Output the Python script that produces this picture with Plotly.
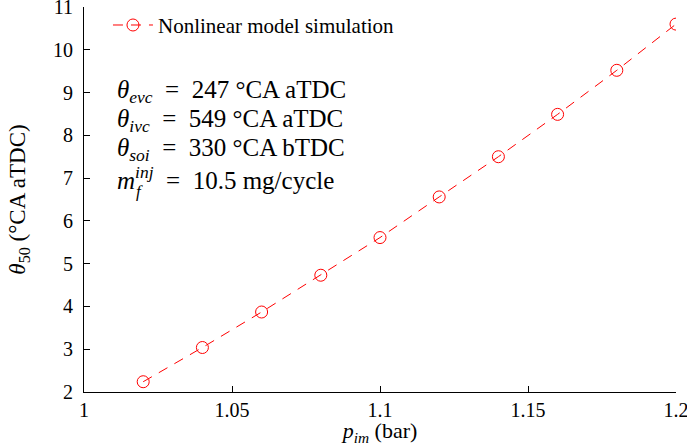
import plotly.graph_objects as go

# Intake manifold pressure (bar) and resulting combustion phasing (deg CA aTDC)
p_im = [1.02, 1.04, 1.06, 1.08, 1.10, 1.12, 1.14, 1.16, 1.18, 1.20]
theta_50 = [2.24, 3.04, 3.87, 4.73, 5.61, 6.56, 7.50, 8.49, 9.52, 10.60]

x_ticks = [1.0, 1.05, 1.1, 1.15, 1.2]
x_tick_text = ["1", "1.05", "1.1", "1.15", "1.2"]
y_ticks = [2, 3, 4, 5, 6, 7, 8, 9, 10, 11]

series_name = "Nonlinear model simulation"
EQ = "&nbsp;&nbsp;=&nbsp;&nbsp;"
conditions = [
    f"<i>θ</i><sub><i>evc</i></sub>{EQ}247 °CA aTDC",
    f"<i>θ</i><sub><i>ivc</i></sub>{EQ}549 °CA aTDC",
    f"<i>θ</i><sub><i>soi</i></sub>{EQ}330 °CA bTDC",
    f"<i>m</i><sup><i>inj</i></sup>{EQ}10.5 mg/cycle",
]

FONT = "Liberation Serif"
RED = "#ff0000"

fig = go.Figure()
fig.add_trace(go.Scatter(
    x=p_im, y=theta_50, name=series_name, mode="lines+markers",
    line=dict(color=RED, width=1, dash="10px,8px"),
    marker=dict(symbol="circle-open", size=12, color=RED, line=dict(width=1, color=RED)),
))

axis_common = dict(
    showline=True, linecolor="black", linewidth=1, mirror=False,
    ticks="inside", ticklen=6, tickcolor="black", tickwidth=1,
    showgrid=False, zeroline=False, ticklabeloverflow="allow", automargin=False,
    tickfont=dict(family=FONT, size=20, color="black"),
)

fig.update_xaxes(
    range=[1.0, 1.2], tickvals=x_ticks, ticktext=x_tick_text,
    title=dict(text="<i>p</i><sub><i>im</i></sub> (bar)", standoff=0,
               font=dict(family=FONT, size=22, color="black")),
    **axis_common,
)
fig.update_yaxes(
    range=[2, 11], tickvals=y_ticks, ticklabelstandoff=6,
    title=dict(text="<i>θ</i><sub>50</sub> (°CA aTDC)", standoff=20,
               font=dict(family=FONT, size=23, color="black")),
    **axis_common,
)

# Operating-condition text block
line_y = [0.780, 0.706, 0.631, 0.557]
for txt, yy in zip(conditions, line_y):
    fig.add_annotation(
        x=0.052, y=yy, xref="paper", yref="paper", xanchor="left", yanchor="middle",
        text=txt, showarrow=False, font=dict(family=FONT, size=25, color="black"),
    )
# subscript f beneath the inj superscript of m
fig.add_annotation(
    x=0.085, y=0.521, xref="paper", yref="paper", xanchor="left", yanchor="middle",
    text="<i>f</i>", showarrow=False, font=dict(family=FONT, size=17, color="black"),
)

fig.update_layout(
    width=687, height=446,
    margin=dict(l=84, r=11, t=6, b=54),
    paper_bgcolor="white", plot_bgcolor="white",
    font=dict(family=FONT, color="black"),
    showlegend=True,
    legend=dict(
        x=0.0405, y=1.003, xanchor="left", yanchor="top", itemwidth=40,
        bgcolor="rgba(0,0,0,0)", font=dict(family=FONT, size=21, color="black"),
    ),
)

fig.write_html("out.html")
